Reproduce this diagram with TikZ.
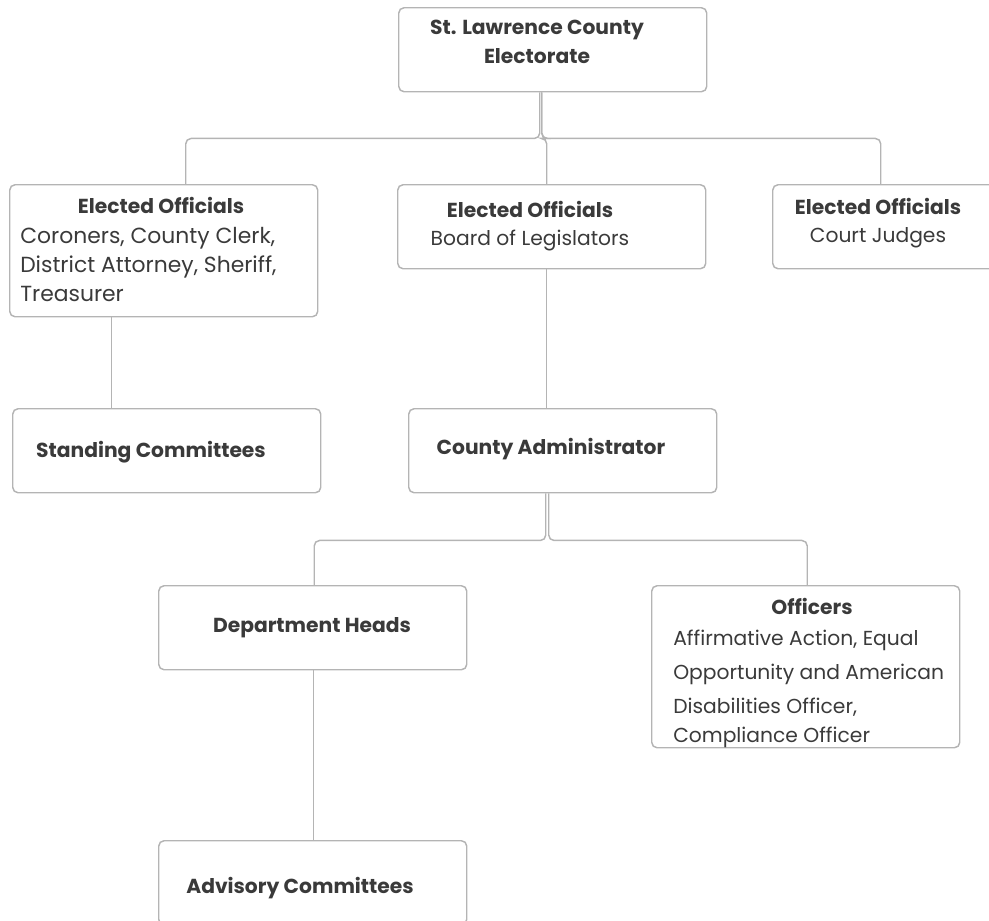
\documentclass[tikz,border=0pt]{standalone}
\usepackage{fontspec}
\setmainfont{Poppins}
\usetikzlibrary{positioning, calc}
\definecolor{edgegray}{HTML}{B4B4B4}
\definecolor{inkgray}{HTML}{3A3A3A}
\tikzset{
  box/.style={draw=edgegray, line width=1.1pt, rounded corners=4pt, minimum width=231pt, minimum height=63pt, inner sep=0pt, anchor=north west},
  link/.style={draw=edgegray, line width=1.1pt, rounded corners=4pt},
  head/.style={font=\bfseries\fontsize{15.2}{21.75}\selectfont, text=inkgray, inner sep=0pt, align=center},
  body/.style={font=\fontsize{15.2}{21.75}\selectfont, text=inkgray, inner sep=0pt, align=left},
  bigbody/.style={body, font=\fontsize{16.4}{21.75}\selectfont},
}

\begin{document}
\begin{tikzpicture}[x=0.75pt, y=-0.75pt]
  \useasboundingbox (0,0) rectangle (989,921);
  \clip (0,0) rectangle (989,921);

  % boxes
  \node[box] (elect) at (398,7) {};
  \node[box, minimum height=99pt] (eoleft) at (9,184) {};
  \node[box] (eomid) at (397,184) {};
  \node[box] (eoright) at (772,184) {};
  \node[box] (standing) at (12,408) {};
  \node[box] (admin) at (408,408) {};
  \node[box] (dept) at (158,585) {};
  \node[box, minimum height=121.5pt] (officers) at (651,585) {};
  \node[box] (advisory) at (158,840) {};

  % texts
  \node[head] (electT) at (537,42) {St. Lawrence County\\Electorate};
  \node[head] (eoleftT) at (161,205) {Elected Officials};
  \node[bigbody, anchor=west] (eoleftB) at (20,265) {Coroners, County Clerk,\\District Attorney, Sheriff,\\Treasurer};
  \node[head] (eomidT) at (530,209) {Elected Officials};
  \node[body] (eomidB) at (530,240) {Board of Legislators};
  \node[head] (eorightT) at (878,206) {Elected Officials};
  \node[body] (eorightB) at (878,238) {Court Judges};
  \node[head] (standingT) at (151,452) {Standing Committees};
  \node[head] (adminT) at (551,449) {County Administrator};
  \node[head] (deptT) at (312,628) {Department Heads};
  \node[head] (officersT) at (812,606) {Officers};
  \node[body, anchor=west] (officersB) at (673,689)
    {Affirmative Action, Equal\\[3.75pt]Opportunity and American\\[3.75pt]Disabilities Officer,\\Compliance Officer};
  \node[head] (advisoryT) at (300,888) {Advisory Committees};

  % connectors
  \draw[link] ($(elect.south)+(-13,0)$) -- ++(0,46) -| ($(eoleft.north)+(22,0)$);
  \draw[link] ($(elect.south)+(-11,0)$) -- ++(0,46) -| ($(eoright.north)+(-46,0)$);
  \draw[link] ($(elect.south)+(-11,0)$) -- ++(0,46) -| ($(eomid.north)+(-5,0)$);
  \draw[link] ($(eoleft.south)+(-52,0)$) -- ($(standing.north)+(-55,0)$);
  \draw[link] ($(eomid.south)+(-5,0)$) -- ($(admin.north)+(-16,0)$);
  \draw[link] ($(admin.south)+(-17,0)$) -- ++(0,47) -| ($(dept.north)+(1.5,0)$);
  \draw[link] ($(admin.south)+(-14,0)$) -- ++(0,47) -| ($(officers.north)+(1.5,0)$);
  \draw[link] ($(dept.south)+(0.5,0)$) -- ($(advisory.north)+(0.5,0)$);
\end{tikzpicture}
\end{document}
